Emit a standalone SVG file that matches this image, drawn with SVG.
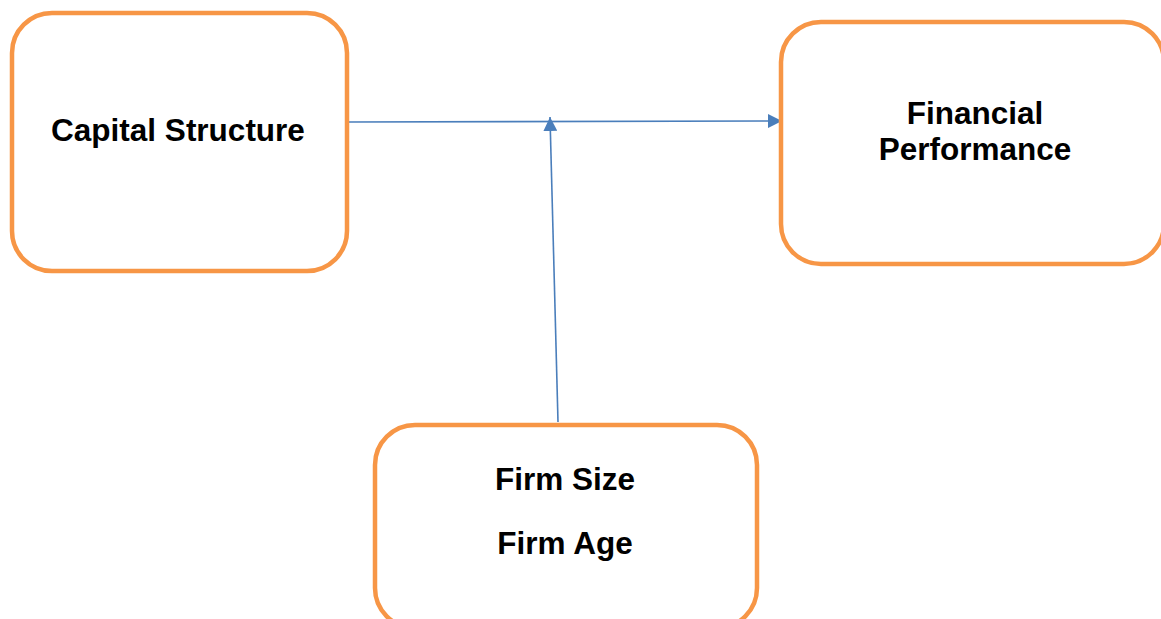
<svg xmlns="http://www.w3.org/2000/svg" width="1161" height="619" viewBox="0 0 1161 619">
<style>
.box{fill:#ffffff;stroke:#F79646;stroke-width:4.5}
.lbl{font-family:"Liberation Sans",Arial,sans-serif;font-weight:bold;font-size:31.5px;fill:#000;text-anchor:middle}
.conn{fill:none;stroke:#4A7EBB;stroke-width:1.6}
</style>
<defs>
<marker id="ah2" viewBox="0 0 10 10" refX="10" refY="5" markerWidth="14" markerHeight="14" markerUnits="userSpaceOnUse" orient="auto">
<path d="M0,0 L10,5 L0,10 z" fill="#4A7EBB"/>
</marker>
</defs>
<rect width="1161" height="619" fill="#ffffff"/>
<g id="connectors">
<path class="conn" d="M348,122 L782,121" marker-end="url(#ah2)"/>
<path class="conn" d="M558,422 L550,117" marker-end="url(#ah2)"/>
</g>
<g id="capital-structure">
<rect class="box" x="12" y="13" width="335" height="258" rx="40" ry="40"/>
<text class="lbl" x="178" y="141">Capital Structure</text>
</g>
<g id="financial-performance">
<rect class="box" x="781" y="22" width="383" height="242" rx="40" ry="40"/>
<text class="lbl" x="975" y="124">Financial</text>
<text class="lbl" x="975" y="160">Performance</text>
</g>
<g id="moderators">
<rect class="box" x="375" y="425" width="382" height="203" rx="40" ry="40"/>
<text class="lbl" x="565" y="490">Firm Size</text>
<text class="lbl" x="565" y="554">Firm Age</text>
</g>
</svg>
